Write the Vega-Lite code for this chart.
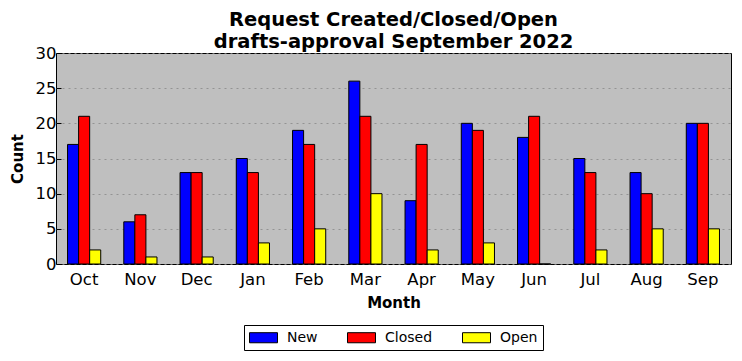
{
  "$schema": "https://vega.github.io/schema/vega-lite/v6.json",
  "autosize": "none",
  "width": 675,
  "height": 211,
  "padding": {"left": 56, "top": 53, "right": 11, "bottom": 97},
  "background": "white",
  "title": {
    "text": ["Request Created/Closed/Open", "drafts-approval September 2022"],
    "font": "DejaVu Sans",
    "fontSize": 19.5,
    "fontWeight": "bold",
    "color": "black",
    "anchor": "middle",
    "offset": -7,
    "lineHeight": 22
  },
  "config": {
    "font": "DejaVu Sans",
    "view": {"fill": "#bfbfbf", "stroke": "black", "strokeWidth": 1},
    "legend": {"layout": {"bottom": {"anchor": "middle"}}}
  },
  "data": {
    "values": [
      {"month": "Oct", "series": "New", "count": 17},
      {"month": "Oct", "series": "Closed", "count": 21},
      {"month": "Oct", "series": "Open", "count": 2},
      {"month": "Nov", "series": "New", "count": 6},
      {"month": "Nov", "series": "Closed", "count": 7},
      {"month": "Nov", "series": "Open", "count": 1},
      {"month": "Dec", "series": "New", "count": 13},
      {"month": "Dec", "series": "Closed", "count": 13},
      {"month": "Dec", "series": "Open", "count": 1},
      {"month": "Jan", "series": "New", "count": 15},
      {"month": "Jan", "series": "Closed", "count": 13},
      {"month": "Jan", "series": "Open", "count": 3},
      {"month": "Feb", "series": "New", "count": 19},
      {"month": "Feb", "series": "Closed", "count": 17},
      {"month": "Feb", "series": "Open", "count": 5},
      {"month": "Mar", "series": "New", "count": 26},
      {"month": "Mar", "series": "Closed", "count": 21},
      {"month": "Mar", "series": "Open", "count": 10},
      {"month": "Apr", "series": "New", "count": 9},
      {"month": "Apr", "series": "Closed", "count": 17},
      {"month": "Apr", "series": "Open", "count": 2},
      {"month": "May", "series": "New", "count": 20},
      {"month": "May", "series": "Closed", "count": 19},
      {"month": "May", "series": "Open", "count": 3},
      {"month": "Jun", "series": "New", "count": 18},
      {"month": "Jun", "series": "Closed", "count": 21},
      {"month": "Jun", "series": "Open", "count": 0},
      {"month": "Jul", "series": "New", "count": 15},
      {"month": "Jul", "series": "Closed", "count": 13},
      {"month": "Jul", "series": "Open", "count": 2},
      {"month": "Aug", "series": "New", "count": 13},
      {"month": "Aug", "series": "Closed", "count": 10},
      {"month": "Aug", "series": "Open", "count": 5},
      {"month": "Sep", "series": "New", "count": 20},
      {"month": "Sep", "series": "Closed", "count": 20},
      {"month": "Sep", "series": "Open", "count": 5}
    ]
  },
  "mark": {"type": "bar", "stroke": "black", "strokeWidth": 1},
  "encoding": {
    "x": {
      "field": "month",
      "type": "nominal",
      "sort": ["Oct", "Nov", "Dec", "Jan", "Feb", "Mar", "Apr", "May", "Jun", "Jul", "Aug", "Sep"],
      "scale": {"paddingInner": 0.41, "paddingOuter": 0.205},
      "axis": {
        "title": "Month",
        "titleFontSize": 15,
        "titleFontWeight": "bold",
        "titleColor": "black",
        "titlePadding": 8,
        "labelFontSize": 16.5,
        "labelColor": "black",
        "labelAngle": 0,
        "labelPadding": 12,
        "tickSize": -5,
        "tickColor": "black",
        "domain": false,
        "grid": false
      }
    },
    "xOffset": {"field": "series", "type": "nominal", "sort": ["New", "Closed", "Open"]},
    "y": {
      "field": "count",
      "type": "quantitative",
      "scale": {"domain": [0, 30], "nice": false},
      "axis": {
        "title": "Count",
        "titleFontSize": 15,
        "titleFontWeight": "bold",
        "titleColor": "black",
        "titlePadding": 10,
        "values": [0, 5, 10, 15, 20, 25, 30],
        "labelFontSize": 16.5,
        "labelColor": "black",
        "labelPadding": 5,
        "tickSize": -5,
        "tickColor": "black",
        "domain": false,
        "grid": true,
        "gridColor": "#888888",
        "gridDash": [2, 4],
        "gridWidth": 0.8
      }
    },
    "color": {
      "field": "series",
      "type": "nominal",
      "sort": ["New", "Closed", "Open"],
      "scale": {"domain": ["New", "Closed", "Open"], "range": ["#0000ff", "#ff0000", "#ffff00"]},
      "legend": {
        "title": null,
        "orient": "bottom",
        "direction": "horizontal",
        "symbolType": "M-2,-0.72H2V0.72H-2Z",
        "symbolSize": 196,
        "symbolOffset": 7,
        "symbolStrokeColor": "black",
        "symbolStrokeWidth": 1,
        "symbolOpacity": 1,
        "labelFontSize": 14,
        "labelColor": "black",
        "labelOffset": 16,
        "columnPadding": 27,
        "strokeColor": "black",
        "padding": 5,
        "offset": 14
      }
    }
  }
}
